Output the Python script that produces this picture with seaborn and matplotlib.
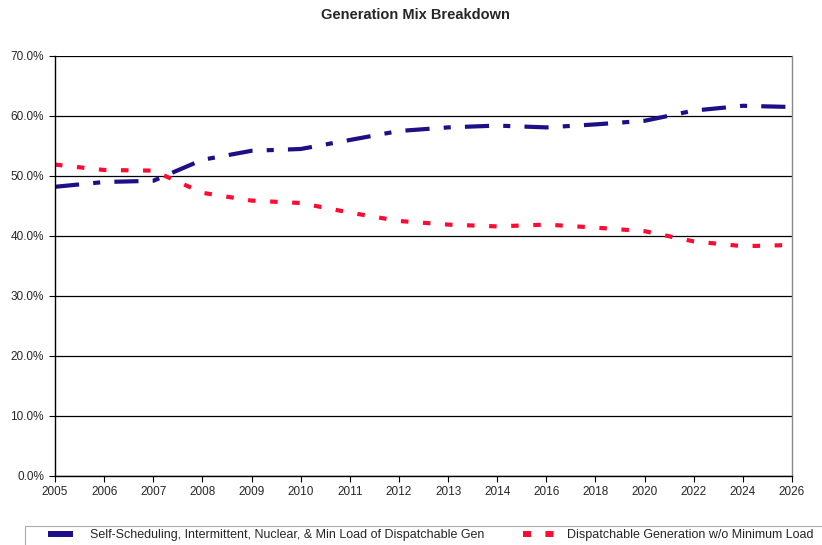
import matplotlib
matplotlib.use("Agg")
import matplotlib.pyplot as plt
from matplotlib.patches import Rectangle
from matplotlib.ticker import FuncFormatter, MultipleLocator
import numpy as np
import pandas as pd
import seaborn as sns

years = ["2005", "2006", "2007", "2008", "2009", "2010", "2011", "2012",
         "2013", "2014", "2016", "2018", "2020", "2022", "2024", "2026"]
self_sched = [48.2, 49.0, 49.2, 52.7, 54.2, 54.5, 56.0, 57.5,
              58.1, 58.4, 58.1, 58.6, 59.2, 60.9, 61.7, 61.5]
dispatchable = [51.9, 51.0, 50.9, 47.2, 45.9, 45.5, 43.9, 42.5,
                41.9, 41.6, 41.9, 41.4, 40.8, 39.1, 38.3, 38.5]
series_names = ["Self-Scheduling, Intermittent, Nuclear, & Min Load of Dispatchable Gen",
                "Dispatchable Generation w/o Minimum Load"]

pos = np.arange(len(years))
df = pd.concat([
    pd.DataFrame({"pos": pos, "value": self_sched, "series": series_names[0]}),
    pd.DataFrame({"pos": pos, "value": dispatchable, "series": series_names[1]}),
])

sns.set_theme(style="white")
plt.rcParams["font.family"] = ["Liberation Sans", "DejaVu Sans"]

W, H = 822, 545
fig = plt.figure(figsize=(W / 100, H / 100), dpi=100)
ax = fig.add_axes([55 / W, 1 - 476 / H, (792 - 55) / W, (476 - 56) / H])

palette = {series_names[0]: "#1c0f87", series_names[1]: "#ff0a32"}
dashes = {series_names[0]: (5.8, 3.4, 1.7, 3.4), series_names[1]: (1.8, 3.5)}

sns.lineplot(data=df, x="pos", y="value", hue="series", style="series",
             palette=palette, dashes=dashes, linewidth=3.0, ax=ax, legend=False,
             dash_capstyle="butt", solid_capstyle="butt")

ax.set_xlim(0, len(years) - 1)
ax.set_ylim(0, 70)
ax.yaxis.set_major_locator(MultipleLocator(10))
ax.yaxis.set_major_formatter(FuncFormatter(lambda v, _: f"{v:.1f}%"))
ax.set_xticks(pos)
ax.set_xticklabels(years)
ax.set_xlabel("")
ax.set_ylabel("")
ax.grid(axis="y", color="black", linewidth=0.9)
ax.set_axisbelow(True)

for side in ["left", "bottom"]:
    ax.spines[side].set_color("black")
    ax.spines[side].set_linewidth(1.0)
ax.spines["right"].set_color("#888888")
ax.spines["right"].set_linewidth(1.0)
ax.spines["top"].set_visible(False)

ax.tick_params(axis="both", which="major", labelsize=8.5, direction="out",
               length=4, width=0.8, color="black", bottom=True, left=True)
ax.tick_params(axis="y", pad=4)
ax.tick_params(axis="x", pad=3)

fig.suptitle("Generation Mix Breakdown", x=415 / W, y=1 - 15 / H,
             va="center", fontsize=10.5, fontweight="bold")

# legend box along the bottom edge, running off the right side
fig.add_artist(Rectangle((25 / W, -10 / H), 820 / W, (10 + 545 - 526) / H,
                         transform=fig.transFigure, facecolor="white",
                         edgecolor="#aaaaaa", linewidth=0.8))

legend_y = 1 - 535 / H
blue_handle = plt.Line2D([], [], color=palette[series_names[0]], linewidth=4.3,
                         solid_capstyle="butt")
red_handle = plt.Line2D([], [], color=palette[series_names[1]], linewidth=4.3,
                        linestyle=(0, (1.35, 2.4)), dash_capstyle="butt")
fig.legend([blue_handle], [series_names[0]], loc="center left",
           bbox_to_anchor=(48 / W, legend_y), fontsize=9, frameon=False,
           handlelength=2.0, handletextpad=1.35, borderpad=0, borderaxespad=0)
fig.legend([red_handle], [series_names[1]], loc="center left",
           bbox_to_anchor=(523 / W, legend_y), fontsize=9, frameon=False,
           handlelength=2.5, handletextpad=1.0, borderpad=0, borderaxespad=0)

fig.savefig("out.png", dpi=100)
